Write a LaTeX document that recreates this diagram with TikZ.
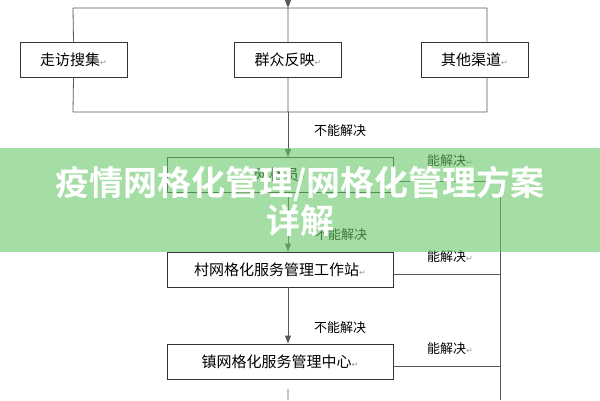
\documentclass[tikz,border=0pt]{standalone}
\usepackage{fontspec}
\setmainfont{Noto Sans CJK SC}
\newfontfamily\titlefont{Noto Sans CJK SC Bold}
\newfontfamily\symfont{DejaVu Sans}
\usepackage{tikz}
\usetikzlibrary{arrows.meta}
\newcommand{\retmark}{{\symfont\fontsize{8pt}{8pt}\selectfont\color{black!40}↵}}
\tikzstyle{source}=[rectangle,
draw=black!80,
line width=0.8pt,
minimum width=107pt,
minimum height=35pt,
inner sep=0pt,
font=\fontsize{15pt}{18pt}\selectfont]
\tikzstyle{level}=[source,
minimum width=226pt]
\tikzstyle{flowline}=[draw=black!65,
line width=0.8pt]
\tikzstyle{note}=[inner sep=0pt,
font=\fontsize{13pt}{15pt}\selectfont]
\tikzstyle{banner}=[fill={rgb,255:red,104;green,200;blue,104},
fill opacity=0.6]

\begin{document}
\begin{tikzpicture}[x=1pt,y=-1pt,>={Triangle[length=8pt,width=6pt]}]
		\useasboundingbox (0,0) rectangle (600,400);
		
		% Three sources of problems along the top
		\node (visit)    [source] at (73.5,59.5) {走访搜集\retmark};
		\node (feedback) [source] at (288,59.5)  {群众反映\retmark};
		\node (other)    [source] at (474.5,59.5){其他渠道\retmark};
		
		% The levels that deal with them, one under the other
		\node (grid)    [level] at (280,175)   {网格员\retmark};
		\node (village) [level] at (280,269.5) {村网格化服务管理工作站\retmark};
		\node (town)    [level] at (280,361.5) {镇网格化服务管理中心\retmark};
		
		% Helper points for the bars and the spine
		\coordinate (in)     at (288,0);
		\coordinate (topC)   at (288,8);
		\coordinate (topL)   at (73,8);
		\coordinate (topR)   at (487,8);
		\coordinate (botC)   at (288,112);
		\coordinate (botL)   at (73,112);
		\coordinate (botR)   at (487,112);
		\coordinate (right)  at (500,181);
		\coordinate (rightE) at (500,400);
		\coordinate (tail)   at (288,389);
		\coordinate (tailE)  at (288,400);
		
		% Top and bottom bars round the sources
		\path[flowline,->] (in) -- (topC);
		\path[flowline]
		(topL) -- (topR)
		(topL) -- (visit.north)
		(topC) -- (feedback.north)
		(topR) -- (topR |- other.north)
		(visit.south) -- (botL)
		(topR |- other.south) -- (botR)
		(botL) -- (botR)
		(feedback.south) -- (botC)
		(tail) -- (tailE)
		;
		
		% "cannot solve": down to the next level
		\path[flowline,->] (botC) -- (botC |- grid.north);
		\path[flowline,->] (botC |- grid.south) -- (botC |- village.north);
		\path[flowline,->] (botC |- village.south) -- (botC |- town.north);
		
		% "can solve": out to the right
		\path[flowline]
		([yshift=-6pt]grid.east) -- (right) -- (rightE)
		([yshift=-5pt]village.east) -- ([yshift=-5pt]village.east -| right)
		([yshift=-5pt]town.east) -- ([yshift=-5pt]town.east -| right)
		;
		
		% Labels on the connectors
		\node (no1)  [note] at (340,131) {不能解决};
		\node (no2)  [note] at (341,235) {不能解决};
		\node (no3)  [note] at (340,328) {不能解决};
		\node (yes1) [note] at (450,161) {能解决\retmark};
		\node (yes2) [note] at (450,257) {能解决\retmark};
		\node (yes3) [note] at (450,349) {能解决\retmark};
		
		% The green band with the title across the middle
		\path[banner] (0,148) rectangle (600,252);
		\node (title) [align=center,text=white,inner sep=0pt,
		font=\titlefont\fontsize{34pt}{38pt}\selectfont] at (300,201)
		{疫情网格化管理/网格化管理方案\\详解};
\end{tikzpicture}
\end{document}
